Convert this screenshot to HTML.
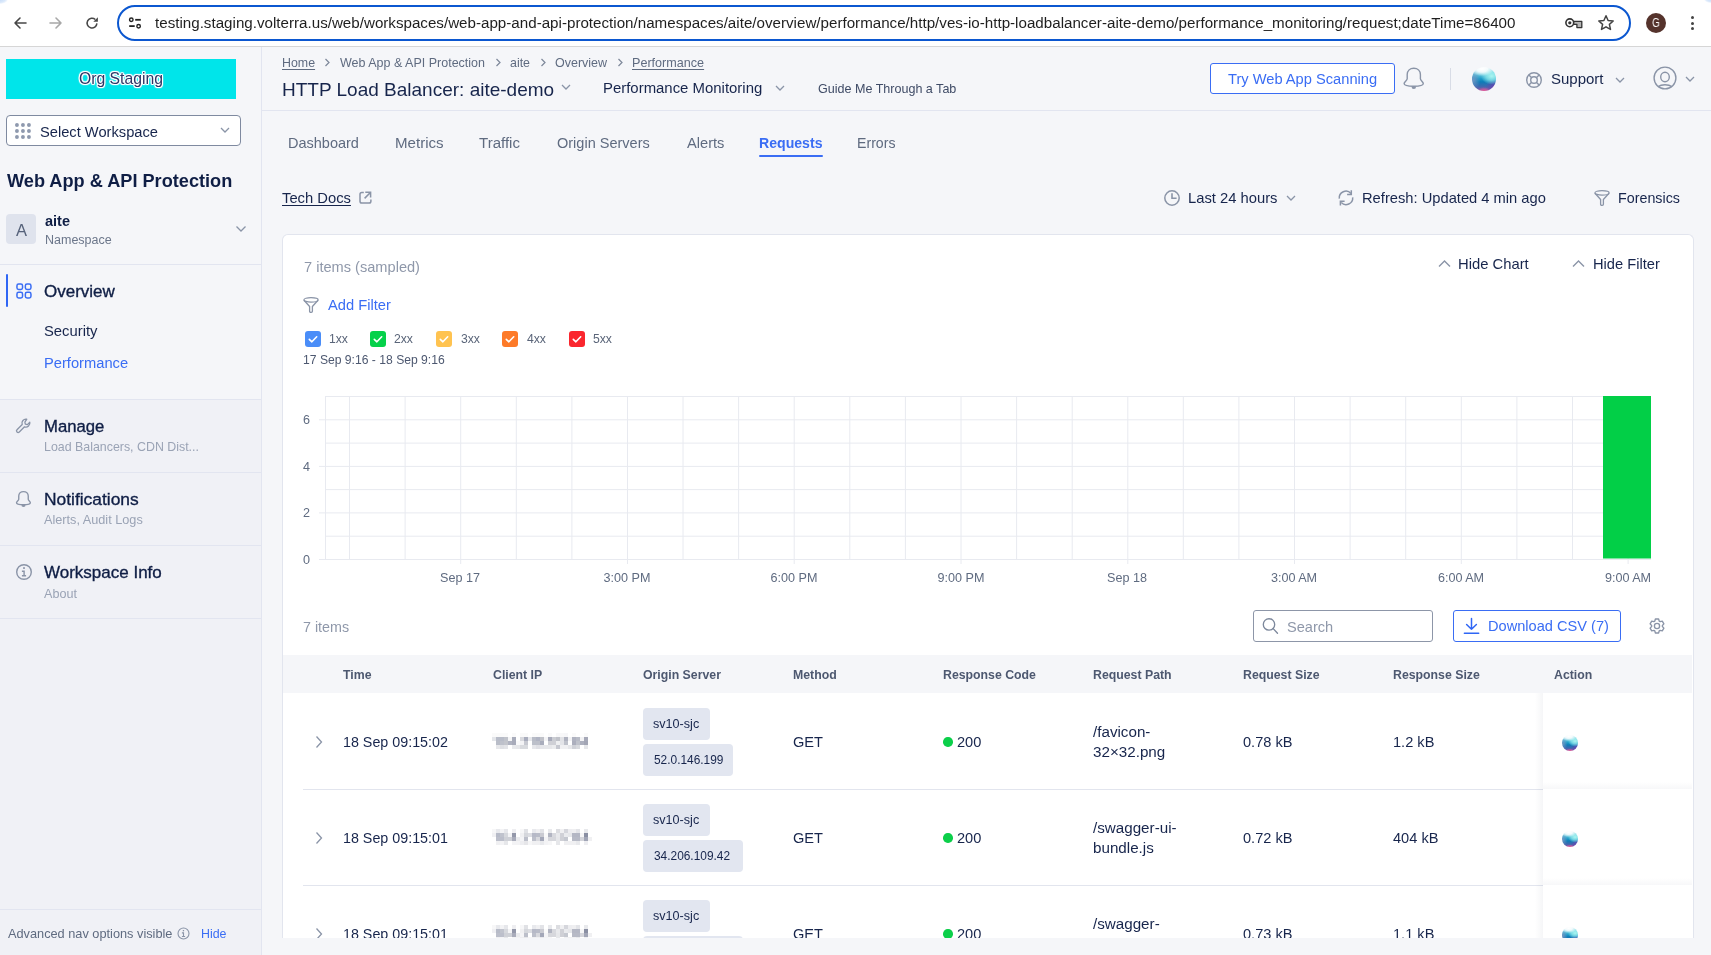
<!DOCTYPE html>
<html><head><meta charset="utf-8"><title>Performance</title>
<style>
*{box-sizing:border-box;margin:0;padding:0}
html,body{width:1711px;height:955px;overflow:hidden;background:#f5f6f9;font-family:"Liberation Sans",Arial,sans-serif;color:#17254c}
.abs{position:absolute}
.t{position:absolute;white-space:nowrap;line-height:1;will-change:transform}
svg.abs{overflow:visible}
</style></head>
<body>
<div class="abs" style="left:0px;top:0px;width:1711px;height:46px;background:#fff"></div>
<div class="abs" style="left:-6px;top:-6px;width:14px;height:10px;border-radius:50%;background:radial-gradient(ellipse at 40% 50%,#c4dbf8 0%,rgba(196,219,248,.6) 50%,rgba(255,255,255,0) 75%)"></div>
<div class="abs" style="left:1704px;top:-5px;width:12px;height:8px;border-radius:50%;background:radial-gradient(ellipse at 60% 50%,#c4dbf8 0%,rgba(196,219,248,.6) 50%,rgba(255,255,255,0) 75%)"></div>
<div class="abs" style="left:0px;top:46px;width:1711px;height:1px;background:#d6d6d6"></div>
<svg class="abs" style="left:12px;top:15px;" width="16" height="16" viewBox="0 0 16 16"><path d="M14 8H3M8 3L3 8l5 5" fill="none" stroke="#474747" stroke-width="1.6" stroke-linecap="round" stroke-linejoin="round"/></svg>
<svg class="abs" style="left:48px;top:15px;" width="16" height="16" viewBox="0 0 16 16"><path d="M2 8h11M8 3l5 5-5 5" fill="none" stroke="#a8a8a8" stroke-width="1.6" stroke-linecap="round" stroke-linejoin="round"/></svg>
<svg class="abs" style="left:84px;top:15px;" width="16" height="16" viewBox="0 0 16 16"><path d="M12.9 8.4A4.9 4.9 0 1 1 11.3 4.5" fill="none" stroke="#474747" stroke-width="1.55"/><path d="M13.9 2.2V6.8H9.3z" fill="#474747"/></svg>
<div class="abs" style="left:117px;top:5px;width:1514px;height:36px;border:2px solid #0b57d0;border-radius:18px;background:#fff;box-sizing:border-box"></div>
<svg class="abs" style="left:128px;top:16px;" width="16" height="14" viewBox="0 0 16 14"><circle cx="3.3" cy="3.7" r="1.75" fill="none" stroke="#222" stroke-width="1.4"/><path d="M7.2 3.8h5.6" stroke="#222" stroke-width="1.8"/><path d="M1.2 10.1h5.5" stroke="#222" stroke-width="1.8"/><circle cx="10.6" cy="10.2" r="1.75" fill="none" stroke="#222" stroke-width="1.4"/></svg>
<div class="t " style="left:155.0px;top:15.16px;font-size:15.17px;color:#1f1f1f;font-weight:400;">testing.staging.volterra.us/web/workspaces/web-app-and-api-protection/namespaces/aite/overview/performance/http/ves-io-http-loadbalancer-aite-demo/performance_monitoring/request;dateTime=86400</div>
<svg class="abs" style="left:1564px;top:16px;" width="20" height="14" viewBox="0 0 20 14"><path d="M9.3 5.4h8.5v6.2h-4.9V8.4H9.3" fill="#b4b4b4" stroke="#333" stroke-width="1.3" stroke-linejoin="round"/><circle cx="5.8" cy="6.8" r="3.9" fill="#fff" stroke="#333" stroke-width="1.6"/><circle cx="5.8" cy="6.8" r="1.6" fill="#333"/></svg>
<svg class="abs" style="left:1597px;top:14px;" width="18" height="18" viewBox="0 0 18 18"><path d="M9 1.8l2.1 4.7 5.1.5-3.8 3.4 1.1 5L9 12.8l-4.5 2.6 1.1-5L1.8 7l5.1-.5z" fill="none" stroke="#444" stroke-width="1.5" stroke-linejoin="round"/></svg>
<div class="abs" style="left:1646px;top:13px;width:20px;height:20px;background:#55332c;border-radius:50%"></div>
<div class="t " style="left:1651.6px;top:17.24px;font-size:12px;color:#fff;font-weight:400;transform:scaleX(0.82);transform-origin:0 0">G</div>
<div class="abs" style="left:1690.5px;top:16.0px;width:3px;height:3px;background:#444;border-radius:50%"></div>
<div class="abs" style="left:1690.5px;top:21.5px;width:3px;height:3px;background:#444;border-radius:50%"></div>
<div class="abs" style="left:1690.5px;top:27.0px;width:3px;height:3px;background:#444;border-radius:50%"></div>
<div class="abs" style="left:0px;top:47px;width:261px;height:352px;background:#f5f6f9"></div>
<div class="abs" style="left:0px;top:400px;width:261px;height:555px;background:#f0f1f6"></div>
<div class="abs" style="left:261px;top:47px;width:1px;height:908px;background:#e2e5f0"></div>
<div class="abs" style="left:6px;top:59px;width:230px;height:40px;background:#00e5ea"></div>
<div class="t " style="left:79.0px;top:71.38px;font-size:15.74px;color:#2b3766;font-weight:400;text-shadow:1px 0 0 #fff,-1px 0 0 #fff,0 1px 0 #fff,0 -1px 0 #fff,1px 1px 1px #fff,-1px -1px 1px #fff,1px -1px 1px #fff,-1px 1px 1px #fff">Org Staging</div>
<div class="abs" style="left:6px;top:115px;width:235px;height:31px;background:#fff;border:1px solid #7f8aa0;border-radius:4px;box-sizing:border-box"></div>
<svg class="abs" style="left:15px;top:123px;" width="17" height="17" viewBox="0 0 17 17"><circle cx="1.95" cy="1.95" r="1.95" fill="#8e99ae"/><circle cx="1.95" cy="7.95" r="1.95" fill="#8e99ae"/><circle cx="1.95" cy="13.95" r="1.95" fill="#8e99ae"/><circle cx="7.95" cy="1.95" r="1.95" fill="#8e99ae"/><circle cx="7.95" cy="7.95" r="1.95" fill="#8e99ae"/><circle cx="7.95" cy="13.95" r="1.95" fill="#8e99ae"/><circle cx="13.95" cy="1.95" r="1.95" fill="#8e99ae"/><circle cx="13.95" cy="7.95" r="1.95" fill="#8e99ae"/><circle cx="13.95" cy="13.95" r="1.95" fill="#8e99ae"/></svg>
<div class="t " style="left:39.5px;top:125.07px;font-size:14.68px;color:#17254c;font-weight:400;">Select Workspace</div>
<svg class="abs" style="left:219.5px;top:127px;" width="10" height="7" viewBox="0 0 10 7"><path d="M1 1l4 4 4-4" fill="none" stroke="#8a94a7" stroke-width="1.3"/></svg>
<div class="t " style="left:7.0px;top:171.62px;font-size:18.17px;color:#0f1e45;font-weight:700;">Web App &amp; API Protection</div>
<div class="abs" style="left:6px;top:214px;width:30px;height:30px;background:#dfe3ed;border-radius:4px"></div>
<div class="t " style="left:15.5px;top:222.23px;font-size:16.5px;color:#56627a;font-weight:400;">A</div>
<div class="t " style="left:44.5px;top:213.73px;font-size:14.5px;color:#0f1e45;font-weight:700;">aite</div>
<div class="t " style="left:44.5px;top:234.42px;font-size:12.5px;color:#6b768a;font-weight:400;">Namespace</div>
<svg class="abs" style="left:235px;top:225px;" width="12" height="8" viewBox="0 0 12 8"><path d="M1.5 1.5l4.5 4.5 4.5-4.5" fill="none" stroke="#8a94a7" stroke-width="1.3"/></svg>
<div class="abs" style="left:0px;top:264px;width:261px;height:1px;background:#e2e5f0"></div>
<div class="abs" style="left:6px;top:274px;width:2px;height:33px;background:#2f66f5;border-radius:1px"></div>
<svg class="abs" style="left:15px;top:282px;" width="18" height="18" viewBox="0 0 18 18"><rect x="1.95" y="1.95" width="5.6" height="5.6" rx="1.7" fill="none" stroke="#3a6df4" stroke-width="1.5"/><rect x="10.35" y="1.95" width="5.6" height="5.6" rx="1.7" fill="none" stroke="#3a6df4" stroke-width="1.5"/><rect x="1.95" y="10.35" width="5.6" height="5.6" rx="1.7" fill="none" stroke="#3a6df4" stroke-width="1.5"/><rect x="10.35" y="10.35" width="5.6" height="5.6" rx="1.7" fill="none" stroke="#3a6df4" stroke-width="1.5"/></svg>
<div class="t " style="left:44.0px;top:283.11px;font-size:17.0px;color:#0f1e45;font-weight:400;-webkit-text-stroke:0.35px #0f1e45">Overview</div>
<div class="t " style="left:43.8px;top:324.47px;font-size:14.8px;color:#17254c;font-weight:400;">Security</div>
<div class="t " style="left:43.9px;top:355.56px;font-size:14.7px;color:#3a6df4;font-weight:400;">Performance</div>
<div class="abs" style="left:0px;top:399px;width:261px;height:1px;background:#e2e5f0"></div>
<svg class="abs" style="left:15px;top:417px;" width="18" height="18" viewBox="0 0 18 18"><path d="M11.8 2.2a4 4 0 0 0-4.6 5.3L2 12.7a1.6 1.6 0 0 0 2.3 2.3l5.2-5.2a4 4 0 0 0 5.3-4.6l-2.4 2.4-2.1-.4-.4-2.1z" fill="none" stroke="#8a94a7" stroke-width="1.3" stroke-linejoin="round"/></svg>
<div class="t " style="left:44.0px;top:418.66px;font-size:16.7px;color:#0f1e45;font-weight:400;-webkit-text-stroke:0.35px #0f1e45">Manage</div>
<div class="t " style="left:44.2px;top:440.50px;font-size:12.4px;color:#9aa3b5;font-weight:400;">Load Balancers, CDN Dist...</div>
<div class="abs" style="left:0px;top:472px;width:261px;height:1px;background:#e2e5f0"></div>
<svg class="abs" style="left:15.4px;top:489.9px;" width="18" height="18" viewBox="0 0 18 18"><g transform="scale(0.72)"><path d="M11.8 2.2C8 2.2 5.2 4.8 5.2 8.5V12.8C5.2 14.5 2.1 16 2.1 17.6C2.1 19.3 6 20.3 11.8 20.3S21.3 19.3 21.3 17.6C21.3 16 18.4 14.5 18.4 12.8V8.5C18.4 4.8 15.6 2.2 11.8 2.2Z" fill="none" stroke="#8a94a7" stroke-width="1.9"/><path d="M8.8 20.4h6a3 3.3 0 0 1-6 0z" fill="#8a94a7"/></g></svg>
<div class="t " style="left:44.2px;top:491.27px;font-size:17.4px;color:#0f1e45;font-weight:400;-webkit-text-stroke:0.35px #0f1e45">Notifications</div>
<div class="t " style="left:44.2px;top:514.45px;font-size:12.7px;color:#9aa3b5;font-weight:400;">Alerts, Audit Logs</div>
<div class="abs" style="left:0px;top:545px;width:261px;height:1px;background:#e2e5f0"></div>
<svg class="abs" style="left:15px;top:563px;" width="18" height="18" viewBox="0 0 18 18"><circle cx="9" cy="9" r="7.3" fill="none" stroke="#8a94a7" stroke-width="1.4"/><rect x="8.1" y="4.2" width="1.8" height="1.7" fill="#8a94a7"/><path d="M6.9 8.2H9.1V12.7M6.9 12.7H11.1" fill="none" stroke="#8a94a7" stroke-width="1.4"/></svg>
<div class="t " style="left:44.2px;top:564.41px;font-size:17.0px;color:#0f1e45;font-weight:400;-webkit-text-stroke:0.35px #0f1e45">Workspace Info</div>
<div class="t " style="left:44.2px;top:587.73px;font-size:12.6px;color:#9aa3b5;font-weight:400;">About</div>
<div class="abs" style="left:0px;top:618px;width:261px;height:1px;background:#e2e5f0"></div>
<div class="abs" style="left:0px;top:909px;width:261px;height:1px;background:#e2e5f0"></div>
<div class="t " style="left:8.2px;top:928.21px;font-size:12.75px;color:#5f6b80;font-weight:400;">Advanced nav options visible</div>
<svg class="abs" style="left:177.2px;top:927.3px;" width="13" height="13" viewBox="0 0 13 13"><circle cx="6.5" cy="6.5" r="5.5" fill="none" stroke="#8a94a7" stroke-width="1.1"/><rect x="5.8" y="3" width="1.3" height="1.3" fill="#8a94a7"/><path d="M4.9 5.9H6.5V9.5M4.9 9.5H8.1" fill="none" stroke="#8a94a7" stroke-width="1.1"/></svg>
<div class="t " style="left:200.6px;top:927.70px;font-size:12.4px;color:#3a6df4;font-weight:400;">Hide</div>
<div class="abs" style="left:262px;top:47px;width:1449px;height:63px;background:#f5f6f9"></div>
<div class="abs" style="left:262px;top:110px;width:1449px;height:1px;background:#e2e5f0"></div>
<div class="t " style="left:282.3px;top:57.30px;font-size:12.4px;color:#5f6b80;font-weight:400;text-decoration:underline;text-underline-offset:2px">Home</div>
<svg class="abs" style="left:324px;top:58px;" width="7" height="9" viewBox="0 0 7 9"><path d="M1.5 1l3.5 3.5-3.5 3.5" fill="none" stroke="#7d879a" stroke-width="1.2"/></svg>
<div class="t " style="left:339.5px;top:57.22px;font-size:12.5px;color:#5f6b80;font-weight:400;">Web App &amp; API Protection</div>
<svg class="abs" style="left:495px;top:58px;" width="7" height="9" viewBox="0 0 7 9"><path d="M1.5 1l3.5 3.5-3.5 3.5" fill="none" stroke="#7d879a" stroke-width="1.2"/></svg>
<div class="t " style="left:510.3px;top:57.30px;font-size:12.4px;color:#5f6b80;font-weight:400;">aite</div>
<svg class="abs" style="left:540px;top:58px;" width="7" height="9" viewBox="0 0 7 9"><path d="M1.5 1l3.5 3.5-3.5 3.5" fill="none" stroke="#7d879a" stroke-width="1.2"/></svg>
<div class="t " style="left:555.0px;top:57.22px;font-size:12.5px;color:#5f6b80;font-weight:400;">Overview</div>
<svg class="abs" style="left:617px;top:58px;" width="7" height="9" viewBox="0 0 7 9"><path d="M1.5 1l3.5 3.5-3.5 3.5" fill="none" stroke="#7d879a" stroke-width="1.2"/></svg>
<div class="t " style="left:632.0px;top:57.13px;font-size:12.6px;color:#5f6b80;font-weight:400;text-decoration:underline;text-underline-offset:2px">Performance</div>
<div class="t " style="left:281.8px;top:79.72px;font-size:19.0px;color:#17254c;font-weight:400;">HTTP Load Balancer: aite-demo</div>
<svg class="abs" style="left:561px;top:84px;" width="10" height="7" viewBox="0 0 10 7"><path d="M1 1l4 4 4-4" fill="none" stroke="#8a94a7" stroke-width="1.3"/></svg>
<div class="t " style="left:603.3px;top:80.96px;font-size:14.93px;color:#17254c;font-weight:400;">Performance Monitoring</div>
<svg class="abs" style="left:775px;top:85px;" width="10" height="7" viewBox="0 0 10 7"><path d="M1 1l4 4 4-4" fill="none" stroke="#8a94a7" stroke-width="1.3"/></svg>
<div class="t " style="left:817.6px;top:82.58px;font-size:12.55px;color:#3f4b66;font-weight:400;">Guide Me Through a Tab</div>
<div class="abs" style="left:1210px;top:63px;width:185px;height:31px;border:1px solid #3a6df4;border-radius:3px;box-sizing:border-box;background:#fff"></div>
<div class="t " style="left:1228.4px;top:71.58px;font-size:14.67px;color:#3a6df4;font-weight:400;">Try Web App Scanning</div>
<svg class="abs" style="left:1402px;top:66px;" width="24" height="25" viewBox="0 0 24 25"><path d="M11.8 2.2C8 2.2 5.2 4.8 5.2 8.5V12.8C5.2 14.5 2.1 16 2.1 17.6C2.1 19.3 6 20.3 11.8 20.3S21.3 19.3 21.3 17.6C21.3 16 18.4 14.5 18.4 12.8V8.5C18.4 4.8 15.6 2.2 11.8 2.2Z" fill="none" stroke="#8a94a7" stroke-width="1.4"/><path d="M9.5 20.4h4.6a2.3 2.5 0 0 1-4.6 0z" fill="#8a94a7"/></svg>
<div class="abs" style="left:1450px;top:68px;width:1px;height:22px;background:#d8dce6"></div>
<div class="abs" style="left:1472px;top:67px;width:24px;height:24px;border-radius:50%;background:radial-gradient(ellipse 50% 30% at 42% 8%,rgba(255,255,255,1) 0%,rgba(255,255,255,.85) 45%,rgba(255,255,255,0) 100%),radial-gradient(ellipse 45% 35% at 82% 38%,rgba(170,245,240,1) 0%,rgba(150,238,238,.7) 50%,rgba(150,238,238,0) 100%),radial-gradient(ellipse 30% 16% at 50% 100%,rgba(236,90,150,.95) 0%,rgba(220,90,155,.6) 50%,rgba(220,90,155,0) 100%),radial-gradient(ellipse 35% 35% at 92% 85%,rgba(105,65,175,1) 0%,rgba(105,65,175,0) 100%),radial-gradient(ellipse 30% 40% at 5% 55%,rgba(120,150,195,.9) 0%,rgba(120,150,195,0) 100%),linear-gradient(180deg,#d8eef5 0%,#6ccbe0 28%,#1e9cc8 48%,#0c7db8 62%,#3a6ab0 80%,#8a5aa8 100%)"></div>
<svg class="abs" style="left:1525px;top:71px;" width="18" height="18" viewBox="0 0 18 18"><circle cx="9" cy="9" r="7.3" fill="none" stroke="#8a94a7" stroke-width="1.4"/><circle cx="9" cy="9" r="3.3" fill="none" stroke="#8a94a7" stroke-width="1.4"/><path d="M3.9 3.9l2.8 2.8M14.1 3.9l-2.8 2.8M3.9 14.1l2.8-2.8M14.1 14.1l-2.8-2.8" stroke="#8a94a7" stroke-width="1.4"/></svg>
<div class="t " style="left:1551.3px;top:70.70px;font-size:15.0px;color:#17254c;font-weight:400;">Support</div>
<svg class="abs" style="left:1615px;top:77px;" width="10" height="7" viewBox="0 0 10 7"><path d="M1 1l4 4 4-4" fill="none" stroke="#8a94a7" stroke-width="1.3"/></svg>
<svg class="abs" style="left:1652px;top:65.4px;" width="26" height="26" viewBox="0 0 26 26"><circle cx="13" cy="13" r="10.9" fill="none" stroke="#8a94a7" stroke-width="1.4"/><ellipse cx="13" cy="12" rx="4.3" ry="4.7" fill="none" stroke="#8a94a7" stroke-width="1.4"/><path d="M6.3 21.6C8 20.2 10.3 19.7 13 19.7s5 .5 6.7 1.9" fill="none" stroke="#8a94a7" stroke-width="1.4"/></svg>
<svg class="abs" style="left:1684.5px;top:75.5px;" width="10" height="7" viewBox="0 0 10 7"><path d="M1 1l4 4 4-4" fill="none" stroke="#8a94a7" stroke-width="1.3"/></svg>
<div class="t " style="left:287.5px;top:135.72px;font-size:14.51px;color:#5f6b80;font-weight:400;">Dashboard</div>
<div class="t " style="left:394.5px;top:135.23px;font-size:15.08px;color:#5f6b80;font-weight:400;">Metrics</div>
<div class="t " style="left:479.0px;top:135.25px;font-size:15.06px;color:#5f6b80;font-weight:400;">Traffic</div>
<div class="t " style="left:556.7px;top:135.71px;font-size:14.52px;color:#5f6b80;font-weight:400;">Origin Servers</div>
<div class="t " style="left:686.8px;top:135.62px;font-size:14.63px;color:#5f6b80;font-weight:400;">Alerts</div>
<div class="t " style="left:759.0px;top:136.06px;font-size:14.11px;color:#3a6df4;font-weight:700;">Requests</div>
<div class="abs" style="left:759px;top:155px;width:64px;height:2px;background:#3a6df4;border-radius:1px"></div>
<div class="t " style="left:856.5px;top:136.03px;font-size:14.14px;color:#5f6b80;font-weight:400;">Errors</div>
<div class="t " style="left:282.3px;top:191.49px;font-size:14.78px;color:#17254c;font-weight:400;text-decoration:underline;text-underline-offset:2px">Tech Docs</div>
<svg class="abs" style="left:359px;top:191px;" width="14" height="14" viewBox="0 0 14 14"><path d="M4.8 1.4H2.8A1.8 1.8 0 0 0 1 3.2v7.1a1.8 1.8 0 0 0 1.8 1.8h7.3a1.8 1.8 0 0 0 1.8-1.8V8.6" fill="none" stroke="#8a94a7" stroke-width="1.5"/><path d="M6.3 1.3h5.3v5.3M11.4 1.5L5.6 7.4" fill="none" stroke="#8a94a7" stroke-width="1.5"/></svg>
<svg class="abs" style="left:1163px;top:189px;" width="18" height="18" viewBox="0 0 18 18"><circle cx="9" cy="9" r="7.2" fill="none" stroke="#8a94a7" stroke-width="1.5"/><path d="M9 4.3v5h4.6" fill="none" stroke="#8a94a7" stroke-width="1.6"/></svg>
<div class="t " style="left:1188.4px;top:190.80px;font-size:14.77px;color:#17254c;font-weight:400;">Last 24 hours</div>
<svg class="abs" style="left:1286px;top:195px;" width="10" height="7" viewBox="0 0 10 7"><path d="M1 1l4 4 4-4" fill="none" stroke="#8a94a7" stroke-width="1.3"/></svg>
<svg class="abs" style="left:1337px;top:189px;" width="18" height="18" viewBox="0 0 18 18"><path d="M2.3 9.6A6.7 6.7 0 0 1 14 4.5M15.7 8.4A6.7 6.7 0 0 1 4.2 13.6" fill="none" stroke="#8a94a7" stroke-width="1.5"/><path d="M14.3 1.2v4.3H10.1M3.4 16.6v-4.3h4.2" fill="none" stroke="#8a94a7" stroke-width="1.5"/></svg>
<div class="t " style="left:1362.0px;top:190.85px;font-size:14.71px;color:#17254c;font-weight:400;">Refresh: Updated 4 min ago</div>
<svg class="abs" style="left:1593.8px;top:189.8px;" width="16" height="17" viewBox="0 0 16 17"><ellipse cx="8" cy="2.9" rx="7.1" ry="2.2" fill="none" stroke="#8a94a7" stroke-width="1.3"/><path d="M1 3.3L6.6 9.5V14.3a1.1 1.1 0 0 0 1.1 1.1h.6a1.1 1.1 0 0 0 1.1-1.1V9.5L15 3.3" fill="none" stroke="#8a94a7" stroke-width="1.3" stroke-linejoin="round"/></svg>
<div class="t " style="left:1618.2px;top:191.20px;font-size:14.3px;color:#17254c;font-weight:400;">Forensics</div>
<div class="abs" style="left:282px;top:234px;width:1412px;height:704px;background:#fff;border:1px solid #e2e5ee;border-bottom:none;border-radius:6px 6px 0 0;box-sizing:border-box"></div>
<div class="t " style="left:303.9px;top:259.64px;font-size:14.6px;color:#8f98aa;font-weight:400;">7 items (sampled)</div>
<svg class="abs" style="left:1437.5px;top:260px;" width="13" height="8" viewBox="0 0 13 8"><path d="M1 6.5l5.5-5.5 5.5 5.5" fill="none" stroke="#8a94a7" stroke-width="1.4"/></svg>
<div class="t " style="left:1458.2px;top:257.07px;font-size:14.8px;color:#17254c;font-weight:400;">Hide Chart</div>
<svg class="abs" style="left:1572px;top:260px;" width="13" height="8" viewBox="0 0 13 8"><path d="M1 6.5l5.5-5.5 5.5 5.5" fill="none" stroke="#8a94a7" stroke-width="1.4"/></svg>
<div class="t " style="left:1592.7px;top:257.19px;font-size:14.66px;color:#17254c;font-weight:400;">Hide Filter</div>
<svg class="abs" style="left:303.2px;top:297.2px;" width="16" height="16" viewBox="0 0 16 16"><ellipse cx="8" cy="2.9" rx="7.1" ry="2.2" fill="none" stroke="#8a94a7" stroke-width="1.3"/><path d="M1 3.3L6.6 9.5V14.3a1.1 1.1 0 0 0 1.1 1.1h.6a1.1 1.1 0 0 0 1.1-1.1V9.5L15 3.3" fill="none" stroke="#8a94a7" stroke-width="1.3" stroke-linejoin="round"/></svg>
<div class="t " style="left:327.7px;top:298.06px;font-size:14.7px;color:#3a6df4;font-weight:400;">Add Filter</div>
<div class="abs" style="left:305px;top:331px;width:16px;height:16px;border-radius:3px;background:#4a8df8"></div>
<svg class="abs" style="left:305px;top:331px;" width="16" height="16" viewBox="0 0 16 16"><path d="M4.3 8.3l2.6 2.5 4.8-5" fill="none" stroke="#fff" stroke-width="1.6" stroke-linecap="round" stroke-linejoin="round"/></svg>
<div class="t " style="left:329.3px;top:333.17px;font-size:12.2px;color:#5a6579;font-weight:400;">1xx</div>
<div class="abs" style="left:370.3px;top:331px;width:16px;height:16px;border-radius:3px;background:#05d14a"></div>
<svg class="abs" style="left:370.3px;top:331px;" width="16" height="16" viewBox="0 0 16 16"><path d="M4.3 8.3l2.6 2.5 4.8-5" fill="none" stroke="#fff" stroke-width="1.6" stroke-linecap="round" stroke-linejoin="round"/></svg>
<div class="t " style="left:394.0px;top:333.17px;font-size:12.2px;color:#5a6579;font-weight:400;">2xx</div>
<div class="abs" style="left:436px;top:331px;width:16px;height:16px;border-radius:3px;background:#ffc350"></div>
<svg class="abs" style="left:436px;top:331px;" width="16" height="16" viewBox="0 0 16 16"><path d="M4.3 8.3l2.6 2.5 4.8-5" fill="none" stroke="#fff" stroke-width="1.6" stroke-linecap="round" stroke-linejoin="round"/></svg>
<div class="t " style="left:460.5px;top:333.17px;font-size:12.2px;color:#5a6579;font-weight:400;">3xx</div>
<div class="abs" style="left:502px;top:331px;width:16px;height:16px;border-radius:3px;background:#fd7a28"></div>
<svg class="abs" style="left:502px;top:331px;" width="16" height="16" viewBox="0 0 16 16"><path d="M4.3 8.3l2.6 2.5 4.8-5" fill="none" stroke="#fff" stroke-width="1.6" stroke-linecap="round" stroke-linejoin="round"/></svg>
<div class="t " style="left:526.8px;top:333.17px;font-size:12.2px;color:#5a6579;font-weight:400;">4xx</div>
<div class="abs" style="left:569px;top:331px;width:16px;height:16px;border-radius:3px;background:#fa262e"></div>
<svg class="abs" style="left:569px;top:331px;" width="16" height="16" viewBox="0 0 16 16"><path d="M4.3 8.3l2.6 2.5 4.8-5" fill="none" stroke="#fff" stroke-width="1.6" stroke-linecap="round" stroke-linejoin="round"/></svg>
<div class="t " style="left:593.4px;top:333.17px;font-size:12.2px;color:#5a6579;font-weight:400;">5xx</div>
<div class="t " style="left:303.4px;top:353.72px;font-size:12.15px;color:#4d5870;font-weight:400;">17 Sep 9:16 - 18 Sep 9:16</div>
<svg class="abs" style="left:320px;top:390px;overflow:visible" width="1340" height="180" viewBox="0 0 1340 180"><line x1="5" y1="6.5" x2="1331" y2="6.5" stroke="#e8eaf0" stroke-width="1"/><line x1="5" y1="29.8" x2="1331" y2="29.8" stroke="#e8eaf0" stroke-width="1"/><line x1="5" y1="53.1" x2="1331" y2="53.1" stroke="#e8eaf0" stroke-width="1"/><line x1="5" y1="76.4" x2="1331" y2="76.4" stroke="#e8eaf0" stroke-width="1"/><line x1="5" y1="99.6" x2="1331" y2="99.6" stroke="#e8eaf0" stroke-width="1"/><line x1="5" y1="122.9" x2="1331" y2="122.9" stroke="#e8eaf0" stroke-width="1"/><line x1="5" y1="146.2" x2="1331" y2="146.2" stroke="#e8eaf0" stroke-width="1"/><line x1="5" y1="169.5" x2="1331" y2="169.5" stroke="#e8eaf0" stroke-width="1"/><line x1="5.5" y1="6" x2="5.5" y2="169.5" stroke="#e8eaf0" stroke-width="1"/><line x1="29.5" y1="6" x2="29.5" y2="169.5" stroke="#e8eaf0" stroke-width="1"/><line x1="85.1" y1="6" x2="85.1" y2="169.5" stroke="#e8eaf0" stroke-width="1"/><line x1="140.7" y1="6" x2="140.7" y2="169.5" stroke="#e8eaf0" stroke-width="1"/><line x1="196.3" y1="6" x2="196.3" y2="169.5" stroke="#e8eaf0" stroke-width="1"/><line x1="251.9" y1="6" x2="251.9" y2="169.5" stroke="#e8eaf0" stroke-width="1"/><line x1="307.5" y1="6" x2="307.5" y2="169.5" stroke="#e8eaf0" stroke-width="1"/><line x1="363.0" y1="6" x2="363.0" y2="169.5" stroke="#e8eaf0" stroke-width="1"/><line x1="418.6" y1="6" x2="418.6" y2="169.5" stroke="#e8eaf0" stroke-width="1"/><line x1="474.2" y1="6" x2="474.2" y2="169.5" stroke="#e8eaf0" stroke-width="1"/><line x1="529.8" y1="6" x2="529.8" y2="169.5" stroke="#e8eaf0" stroke-width="1"/><line x1="585.4" y1="6" x2="585.4" y2="169.5" stroke="#e8eaf0" stroke-width="1"/><line x1="641.0" y1="6" x2="641.0" y2="169.5" stroke="#e8eaf0" stroke-width="1"/><line x1="696.6" y1="6" x2="696.6" y2="169.5" stroke="#e8eaf0" stroke-width="1"/><line x1="752.2" y1="6" x2="752.2" y2="169.5" stroke="#e8eaf0" stroke-width="1"/><line x1="807.8" y1="6" x2="807.8" y2="169.5" stroke="#e8eaf0" stroke-width="1"/><line x1="863.3" y1="6" x2="863.3" y2="169.5" stroke="#e8eaf0" stroke-width="1"/><line x1="918.9" y1="6" x2="918.9" y2="169.5" stroke="#e8eaf0" stroke-width="1"/><line x1="974.5" y1="6" x2="974.5" y2="169.5" stroke="#e8eaf0" stroke-width="1"/><line x1="1030.1" y1="6" x2="1030.1" y2="169.5" stroke="#e8eaf0" stroke-width="1"/><line x1="1085.7" y1="6" x2="1085.7" y2="169.5" stroke="#e8eaf0" stroke-width="1"/><line x1="1141.3" y1="6" x2="1141.3" y2="169.5" stroke="#e8eaf0" stroke-width="1"/><line x1="1196.9" y1="6" x2="1196.9" y2="169.5" stroke="#e8eaf0" stroke-width="1"/><line x1="1252.5" y1="6" x2="1252.5" y2="169.5" stroke="#e8eaf0" stroke-width="1"/><line x1="1308.1" y1="6" x2="1308.1" y2="169.5" stroke="#e8eaf0" stroke-width="1"/><line x1="-1" y1="169.5" x2="5" y2="169.5" stroke="#e8eaf0" stroke-width="1"/><line x1="-1" y1="122.9" x2="5" y2="122.9" stroke="#e8eaf0" stroke-width="1"/><line x1="-1" y1="76.4" x2="5" y2="76.4" stroke="#e8eaf0" stroke-width="1"/><line x1="-1" y1="29.8" x2="5" y2="29.8" stroke="#e8eaf0" stroke-width="1"/><line x1="140.7" y1="169" x2="140.7" y2="174" stroke="#e8eaf0" stroke-width="1"/><line x1="307.5" y1="169" x2="307.5" y2="174" stroke="#e8eaf0" stroke-width="1"/><line x1="474.2" y1="169" x2="474.2" y2="174" stroke="#e8eaf0" stroke-width="1"/><line x1="641.0" y1="169" x2="641.0" y2="174" stroke="#e8eaf0" stroke-width="1"/><line x1="807.8" y1="169" x2="807.8" y2="174" stroke="#e8eaf0" stroke-width="1"/><line x1="974.5" y1="169" x2="974.5" y2="174" stroke="#e8eaf0" stroke-width="1"/><line x1="1141.3" y1="169" x2="1141.3" y2="174" stroke="#e8eaf0" stroke-width="1"/><line x1="1308.1" y1="169" x2="1308.1" y2="174" stroke="#e8eaf0" stroke-width="1"/><rect x="1283" y="6" width="48" height="162.5" fill="#02cf47"/></svg>
<div class="t " style="left:303.4px;top:553.73px;font-size:12.6px;color:#5f6b80;font-weight:400;">0</div>
<div class="t " style="left:303.4px;top:507.16px;font-size:12.6px;color:#5f6b80;font-weight:400;">2</div>
<div class="t " style="left:303.4px;top:460.59px;font-size:12.6px;color:#5f6b80;font-weight:400;">4</div>
<div class="t " style="left:303.4px;top:414.02px;font-size:12.6px;color:#5f6b80;font-weight:400;">6</div>
<div class="t" style="left:400.2px;width:120px;text-align:center;top:571.83px;font-size:12.6px;color:#5f6b80">Sep 17</div>
<div class="t" style="left:567.0px;width:120px;text-align:center;top:571.83px;font-size:12.6px;color:#5f6b80">3:00 PM</div>
<div class="t" style="left:733.7px;width:120px;text-align:center;top:571.83px;font-size:12.6px;color:#5f6b80">6:00 PM</div>
<div class="t" style="left:900.5px;width:120px;text-align:center;top:571.83px;font-size:12.6px;color:#5f6b80">9:00 PM</div>
<div class="t" style="left:1067.3px;width:120px;text-align:center;top:571.83px;font-size:12.6px;color:#5f6b80">Sep 18</div>
<div class="t" style="left:1234.0px;width:120px;text-align:center;top:571.83px;font-size:12.6px;color:#5f6b80">3:00 AM</div>
<div class="t" style="left:1400.8px;width:120px;text-align:center;top:571.83px;font-size:12.6px;color:#5f6b80">6:00 AM</div>
<div class="t" style="left:1567.6px;width:120px;text-align:center;top:571.83px;font-size:12.6px;color:#5f6b80">9:00 AM</div>
<div class="t " style="left:303.2px;top:620.40px;font-size:14.3px;color:#8f98aa;font-weight:400;">7 items</div>
<div class="abs" style="left:1253px;top:610px;width:180px;height:32px;border:1px solid #8d96a8;border-radius:3px;box-sizing:border-box;background:#fff"></div>
<svg class="abs" style="left:1261px;top:617px;" width="18" height="18" viewBox="0 0 18 18"><circle cx="8" cy="7.4" r="5.7" fill="none" stroke="#7d889c" stroke-width="1.35"/><path d="M12.2 11.6l4.3 4.6" stroke="#7d889c" stroke-width="1.35" stroke-linecap="round"/></svg>
<div class="t " style="left:1286.7px;top:619.94px;font-size:14.6px;color:#8f98aa;font-weight:400;">Search</div>
<div class="abs" style="left:1453px;top:610px;width:168px;height:32px;border:1px solid #3a6df4;border-radius:3px;box-sizing:border-box;background:#fff"></div>
<svg class="abs" style="left:1462px;top:616px;" width="18" height="18" viewBox="0 0 18 18"><path d="M9.5 2.6v10.6M4.6 8.5l4.9 4.8 4.9-4.8" fill="none" stroke="#2f66f5" stroke-width="1.5" stroke-linecap="round" stroke-linejoin="round"/><path d="M2.4 17.3h14.3" stroke="#2f66f5" stroke-width="1.5" stroke-linecap="round"/></svg>
<div class="t " style="left:1487.7px;top:619.14px;font-size:14.6px;color:#3a6df4;font-weight:400;">Download CSV (7)</div>
<svg class="abs" style="left:1648px;top:617px;" width="18" height="18" viewBox="0 0 18 18"><path d="M6.80 4.07 L7.38 1.98 L10.62 1.98 L11.20 4.07 L12.17 4.63 L14.27 4.09 L15.89 6.89 L14.37 8.44 L14.37 9.56 L15.89 11.11 L14.27 13.91 L12.17 13.37 L11.20 13.93 L10.62 16.02 L7.38 16.02 L6.80 13.93 L5.83 13.37 L3.73 13.91 L2.11 11.11 L3.63 9.56 L3.63 8.44 L2.11 6.89 L3.73 4.09 L5.83 4.63Z" fill="none" stroke="#8a94a7" stroke-width="1.35" stroke-linejoin="round"/><circle cx="9" cy="9" r="2.6" fill="none" stroke="#8a94a7" stroke-width="1.35"/></svg>
<div class="abs" style="left:283px;top:655px;width:1409px;height:38px;background:#f5f6f9"></div>
<div class="t " style="left:343.4px;top:668.59px;font-size:12.3px;color:#4d5870;font-weight:700;">Time</div>
<div class="t " style="left:493.0px;top:668.59px;font-size:12.3px;color:#4d5870;font-weight:700;">Client IP</div>
<div class="t " style="left:643.4px;top:668.59px;font-size:12.3px;color:#4d5870;font-weight:700;">Origin Server</div>
<div class="t " style="left:793.0px;top:668.59px;font-size:12.3px;color:#4d5870;font-weight:700;">Method</div>
<div class="t " style="left:943.1px;top:668.59px;font-size:12.3px;color:#4d5870;font-weight:700;">Response Code</div>
<div class="t " style="left:1092.9px;top:668.59px;font-size:12.3px;color:#4d5870;font-weight:700;">Request Path</div>
<div class="t " style="left:1243.0px;top:668.59px;font-size:12.3px;color:#4d5870;font-weight:700;">Request Size</div>
<div class="t " style="left:1392.9px;top:668.59px;font-size:12.3px;color:#4d5870;font-weight:700;">Response Size</div>
<div class="t " style="left:1553.7px;top:668.59px;font-size:12.3px;color:#4d5870;font-weight:700;">Action</div>
<div class="abs" style="left:283px;top:693px;width:1409px;height:245px;overflow:hidden">
<div class="abs" style="left:20px;top:96px;width:1240px;height:1px;background:#e2e5ee"></div>
<svg class="abs" style="left:31px;top:41.5px" width="10" height="14" viewBox="0 0 10 14"><path d="M2.5 1.5l5 5.5-5 5.5" fill="none" stroke="#8a94a7" stroke-width="1.3"/></svg>
<div class="t" style="left:60.4px;top:42.40px;font-size:14.3px;color:#17254c;font-weight:400;">18 Sep 09:15:02</div>
<svg class="abs" style="left:209px;top:40.0px" width="100" height="16" viewBox="0 0 100 16" shape-rendering="crispEdges"><rect x="0" y="0" width="4" height="4" fill="#fafafa"/><rect x="4" y="0" width="4" height="4" fill="#fafafa"/><rect x="8" y="0" width="4" height="4" fill="#fafafa"/><rect x="12" y="0" width="4" height="4" fill="#fafafa"/><rect x="20" y="0" width="4" height="4" fill="#fafafa"/><rect x="28" y="0" width="4" height="4" fill="#fafafa"/><rect x="32" y="0" width="4" height="4" fill="#fafafa"/><rect x="40" y="0" width="4" height="4" fill="#fafafa"/><rect x="44" y="0" width="4" height="4" fill="#fafafa"/><rect x="48" y="0" width="4" height="4" fill="#fafafa"/><rect x="56" y="0" width="4" height="4" fill="#fafafa"/><rect x="64" y="0" width="4" height="4" fill="#f8f8f9"/><rect x="68" y="0" width="4" height="4" fill="#f8f8f9"/><rect x="72" y="0" width="4" height="4" fill="#f6f6f8"/><rect x="80" y="0" width="4" height="4" fill="#fafafa"/><rect x="92" y="0" width="4" height="4" fill="#fafafa"/><rect x="0" y="4" width="4" height="4" fill="#e4e6ea"/><rect x="4" y="4" width="4" height="4" fill="#b8bcc8"/><rect x="8" y="4" width="4" height="4" fill="#b8bcc8"/><rect x="12" y="4" width="4" height="4" fill="#c0c3cb"/><rect x="16" y="4" width="4" height="4" fill="#f5f5f6"/><rect x="20" y="4" width="4" height="4" fill="#a8acbb"/><rect x="28" y="4" width="4" height="4" fill="#d8d9de"/><rect x="32" y="4" width="4" height="4" fill="#a9adbd"/><rect x="36" y="4" width="4" height="4" fill="#e6e7eb"/><rect x="40" y="4" width="4" height="4" fill="#b8bcc7"/><rect x="44" y="4" width="4" height="4" fill="#b0b4c3"/><rect x="48" y="4" width="4" height="4" fill="#c0c2c9"/><rect x="52" y="4" width="4" height="4" fill="#f4f4f6"/><rect x="56" y="4" width="4" height="4" fill="#a8abba"/><rect x="60" y="4" width="4" height="4" fill="#cbcdd3"/><rect x="64" y="4" width="4" height="4" fill="#c0c2c9"/><rect x="68" y="4" width="4" height="4" fill="#e1e2e6"/><rect x="72" y="4" width="4" height="4" fill="#b0b3c0"/><rect x="76" y="4" width="4" height="4" fill="#f3f3f5"/><rect x="80" y="4" width="4" height="4" fill="#b0b3c1"/><rect x="84" y="4" width="4" height="4" fill="#b8bbc6"/><rect x="88" y="4" width="4" height="4" fill="#f2f2f4"/><rect x="92" y="4" width="4" height="4" fill="#a6a9b8"/><rect x="4" y="8" width="4" height="4" fill="#b9bdc8"/><rect x="8" y="8" width="4" height="4" fill="#bec1cb"/><rect x="12" y="8" width="4" height="4" fill="#c3c5cc"/><rect x="16" y="8" width="4" height="4" fill="#b0b3c1"/><rect x="20" y="8" width="4" height="4" fill="#a8abba"/><rect x="24" y="8" width="4" height="4" fill="#fafafb"/><rect x="28" y="8" width="4" height="4" fill="#f3f3f5"/><rect x="32" y="8" width="4" height="4" fill="#c7c9d1"/><rect x="40" y="8" width="4" height="4" fill="#bcc0ca"/><rect x="44" y="8" width="4" height="4" fill="#bdc0ca"/><rect x="48" y="8" width="4" height="4" fill="#a9adbc"/><rect x="56" y="8" width="4" height="4" fill="#cfd0d6"/><rect x="60" y="8" width="4" height="4" fill="#cfd0d6"/><rect x="64" y="8" width="4" height="4" fill="#eeeff1"/><rect x="68" y="8" width="4" height="4" fill="#e3e4e8"/><rect x="72" y="8" width="4" height="4" fill="#bfc2cb"/><rect x="80" y="8" width="4" height="4" fill="#acafbd"/><rect x="84" y="8" width="4" height="4" fill="#bfc2cb"/><rect x="88" y="8" width="4" height="4" fill="#adb0be"/><rect x="92" y="8" width="4" height="4" fill="#a3a6b5"/><rect x="4" y="12" width="4" height="4" fill="#e6e7ea"/><rect x="8" y="12" width="4" height="4" fill="#dfe0e4"/><rect x="12" y="12" width="4" height="4" fill="#e3e4e8"/><rect x="20" y="12" width="4" height="4" fill="#e8e9ec"/><rect x="24" y="12" width="4" height="4" fill="#e6e7ea"/><rect x="28" y="12" width="4" height="4" fill="#d8dade"/><rect x="32" y="12" width="4" height="4" fill="#d8dade"/><rect x="40" y="12" width="4" height="4" fill="#e6e7eb"/><rect x="44" y="12" width="4" height="4" fill="#dfe0e5"/><rect x="48" y="12" width="4" height="4" fill="#e4e5e9"/><rect x="52" y="12" width="4" height="4" fill="#e6e7ea"/><rect x="56" y="12" width="4" height="4" fill="#e6e7ea"/><rect x="60" y="12" width="4" height="4" fill="#ebecee"/><rect x="64" y="12" width="4" height="4" fill="#c6c8d0"/><rect x="68" y="12" width="4" height="4" fill="#f0f0f2"/><rect x="72" y="12" width="4" height="4" fill="#f0f0f2"/><rect x="76" y="12" width="4" height="4" fill="#e6e7ea"/><rect x="80" y="12" width="4" height="4" fill="#d0d2d8"/><rect x="84" y="12" width="4" height="4" fill="#d8dade"/><rect x="92" y="12" width="4" height="4" fill="#e6e7ea"/></svg>
<div class="abs" style="left:360px;top:15px;width:67px;height:31.5px;background:#e2e6f0;border-radius:4px"></div>
<div class="t" style="left:370.2px;top:24.83px;font-size:12.6px;color:#17254c;font-weight:400;">sv10-sjc</div>
<div class="abs" style="left:360px;top:51px;width:89.5px;height:32px;background:#e2e6f0;border-radius:4px"></div>
<div class="t" style="left:370.8px;top:61.73px;font-size:11.9px;color:#17254c;font-weight:400;">52.0.146.199</div>
<div class="t" style="left:510.0px;top:42.14px;font-size:14.6px;color:#17254c;font-weight:400;">GET</div>
<div class="abs" style="left:660px;top:44.0px;width:9.5px;height:9.5px;background:#0ccf4a;border-radius:50%"></div>
<div class="t" style="left:674.3px;top:42.14px;font-size:14.6px;color:#17254c;font-weight:400;">200</div>
<div class="t" style="left:810.4px;top:31.43px;font-size:15.2px;color:#17254c;font-weight:400;">/favicon-</div>
<div class="t" style="left:810.4px;top:51.03px;font-size:15.2px;color:#17254c;font-weight:400;">32×32.png</div>
<div class="t" style="left:960.0px;top:42.14px;font-size:14.6px;color:#17254c;font-weight:400;">0.78 kB</div>
<div class="t" style="left:1109.9px;top:42.14px;font-size:14.6px;color:#17254c;font-weight:400;">1.2 kB</div>
<div class="abs" style="left:1252px;top:0px;width:8px;height:96px;background:linear-gradient(90deg,rgba(30,40,80,0),rgba(30,40,80,.045))"></div>
<div class="abs" style="left:1260px;top:0px;width:149px;height:96px;background:#fff"></div>
<div class="abs" style="left:1260px;top:89px;width:149px;height:7px;background:linear-gradient(180deg,rgba(30,40,80,0),rgba(30,40,80,.035))"></div>
<div class="abs" style="left:1279px;top:41.5px;width:16px;height:16px;border-radius:50%;background:radial-gradient(ellipse 50% 30% at 42% 8%,rgba(255,255,255,1) 0%,rgba(255,255,255,.85) 45%,rgba(255,255,255,0) 100%),radial-gradient(ellipse 45% 35% at 82% 38%,rgba(170,245,240,1) 0%,rgba(150,238,238,.7) 50%,rgba(150,238,238,0) 100%),radial-gradient(ellipse 30% 16% at 50% 100%,rgba(236,90,150,.95) 0%,rgba(220,90,155,.6) 50%,rgba(220,90,155,0) 100%),radial-gradient(ellipse 35% 35% at 92% 85%,rgba(105,65,175,1) 0%,rgba(105,65,175,0) 100%),radial-gradient(ellipse 30% 40% at 5% 55%,rgba(120,150,195,.9) 0%,rgba(120,150,195,0) 100%),linear-gradient(180deg,#d8eef5 0%,#6ccbe0 28%,#1e9cc8 48%,#0c7db8 62%,#3a6ab0 80%,#8a5aa8 100%)"></div>
<div class="abs" style="left:20px;top:192px;width:1240px;height:1px;background:#e2e5ee"></div>
<svg class="abs" style="left:31px;top:137.5px" width="10" height="14" viewBox="0 0 10 14"><path d="M2.5 1.5l5 5.5-5 5.5" fill="none" stroke="#8a94a7" stroke-width="1.3"/></svg>
<div class="t" style="left:60.4px;top:138.40px;font-size:14.3px;color:#17254c;font-weight:400;">18 Sep 09:15:01</div>
<svg class="abs" style="left:209px;top:136.0px" width="100" height="16" viewBox="0 0 100 16" shape-rendering="crispEdges"><rect x="0" y="0" width="4" height="4" fill="#f7f7f8"/><rect x="4" y="0" width="4" height="4" fill="#e8e9ed"/><rect x="8" y="0" width="4" height="4" fill="#f3f3f5"/><rect x="12" y="0" width="4" height="4" fill="#e6e7eb"/><rect x="20" y="0" width="4" height="4" fill="#eeeef1"/><rect x="28" y="0" width="4" height="4" fill="#f7f7f8"/><rect x="32" y="0" width="4" height="4" fill="#e0e1e5"/><rect x="40" y="0" width="4" height="4" fill="#e8e9ed"/><rect x="44" y="0" width="4" height="4" fill="#f0f0f2"/><rect x="48" y="0" width="4" height="4" fill="#e2e3e7"/><rect x="56" y="0" width="4" height="4" fill="#e8e9ec"/><rect x="64" y="0" width="4" height="4" fill="#dcdde1"/><rect x="68" y="0" width="4" height="4" fill="#f0f0f2"/><rect x="72" y="0" width="4" height="4" fill="#d5d6dc"/><rect x="76" y="0" width="4" height="4" fill="#ededf0"/><rect x="80" y="0" width="4" height="4" fill="#efeff1"/><rect x="84" y="0" width="4" height="4" fill="#e3e4e8"/><rect x="92" y="0" width="4" height="4" fill="#e8e9ec"/><rect x="0" y="4" width="4" height="4" fill="#f0f0f3"/><rect x="4" y="4" width="4" height="4" fill="#b7bbc8"/><rect x="8" y="4" width="4" height="4" fill="#c0c3cd"/><rect x="12" y="4" width="4" height="4" fill="#d6d8dd"/><rect x="16" y="4" width="4" height="4" fill="#f4f4f6"/><rect x="20" y="4" width="4" height="4" fill="#9498aa"/><rect x="28" y="4" width="4" height="4" fill="#f0f0f2"/><rect x="32" y="4" width="4" height="4" fill="#d5d7dc"/><rect x="36" y="4" width="4" height="4" fill="#dcdde2"/><rect x="40" y="4" width="4" height="4" fill="#b6b9c7"/><rect x="44" y="4" width="4" height="4" fill="#b9bcc8"/><rect x="48" y="4" width="4" height="4" fill="#cacbd2"/><rect x="52" y="4" width="4" height="4" fill="#fafafa"/><rect x="56" y="4" width="4" height="4" fill="#b2b5c2"/><rect x="60" y="4" width="4" height="4" fill="#d8d9de"/><rect x="64" y="4" width="4" height="4" fill="#e8e9ec"/><rect x="68" y="4" width="4" height="4" fill="#d0d1d7"/><rect x="72" y="4" width="4" height="4" fill="#eaebee"/><rect x="76" y="4" width="4" height="4" fill="#e6e7ea"/><rect x="80" y="4" width="4" height="4" fill="#b4b7c4"/><rect x="84" y="4" width="4" height="4" fill="#b4b7c4"/><rect x="88" y="4" width="4" height="4" fill="#f6f6f7"/><rect x="92" y="4" width="4" height="4" fill="#8a8fa3"/><rect x="4" y="8" width="4" height="4" fill="#bcbfcb"/><rect x="8" y="8" width="4" height="4" fill="#bcbfcb"/><rect x="12" y="8" width="4" height="4" fill="#cfd1d7"/><rect x="16" y="8" width="4" height="4" fill="#cfd1d7"/><rect x="20" y="8" width="4" height="4" fill="#a9acbb"/><rect x="24" y="8" width="4" height="4" fill="#eaebee"/><rect x="28" y="8" width="4" height="4" fill="#f4f4f6"/><rect x="32" y="8" width="4" height="4" fill="#bcbfca"/><rect x="40" y="8" width="4" height="4" fill="#bcbfca"/><rect x="44" y="8" width="4" height="4" fill="#d8d9de"/><rect x="48" y="8" width="4" height="4" fill="#a3a7b8"/><rect x="52" y="8" width="4" height="4" fill="#f4f4f6"/><rect x="56" y="8" width="4" height="4" fill="#d6d7dc"/><rect x="60" y="8" width="4" height="4" fill="#d6d7dc"/><rect x="64" y="8" width="4" height="4" fill="#e6e7ea"/><rect x="68" y="8" width="4" height="4" fill="#cfd0d6"/><rect x="72" y="8" width="4" height="4" fill="#c5c8d0"/><rect x="80" y="8" width="4" height="4" fill="#b7bac6"/><rect x="84" y="8" width="4" height="4" fill="#b7bac6"/><rect x="88" y="8" width="4" height="4" fill="#d4d5db"/><rect x="92" y="8" width="4" height="4" fill="#a1a5b6"/><rect x="96" y="8" width="4" height="4" fill="#f0f0f2"/><rect x="4" y="12" width="4" height="4" fill="#f0f0f2"/><rect x="8" y="12" width="4" height="4" fill="#f3f3f5"/><rect x="12" y="12" width="4" height="4" fill="#e6e7ea"/><rect x="20" y="12" width="4" height="4" fill="#f3f3f5"/><rect x="24" y="12" width="4" height="4" fill="#f3f3f5"/><rect x="28" y="12" width="4" height="4" fill="#ededf0"/><rect x="32" y="12" width="4" height="4" fill="#e6e6e9"/><rect x="36" y="12" width="4" height="4" fill="#f6f6f7"/><rect x="40" y="12" width="4" height="4" fill="#f0f0f2"/><rect x="44" y="12" width="4" height="4" fill="#f0f0f2"/><rect x="48" y="12" width="4" height="4" fill="#e8e9ec"/><rect x="52" y="12" width="4" height="4" fill="#f3f3f5"/><rect x="56" y="12" width="4" height="4" fill="#f6f6f7"/><rect x="64" y="12" width="4" height="4" fill="#e6e7ea"/><rect x="72" y="12" width="4" height="4" fill="#f0f0f2"/><rect x="76" y="12" width="4" height="4" fill="#f0f0f2"/><rect x="80" y="12" width="4" height="4" fill="#f0f0f2"/><rect x="84" y="12" width="4" height="4" fill="#e8e9ec"/><rect x="92" y="12" width="4" height="4" fill="#eeeef1"/></svg>
<div class="abs" style="left:360px;top:111px;width:67px;height:31.5px;background:#e2e6f0;border-radius:4px"></div>
<div class="t" style="left:370.2px;top:120.83px;font-size:12.6px;color:#17254c;font-weight:400;">sv10-sjc</div>
<div class="abs" style="left:360px;top:147px;width:100.39999999999998px;height:32px;background:#e2e6f0;border-radius:4px"></div>
<div class="t" style="left:370.8px;top:157.73px;font-size:11.9px;color:#17254c;font-weight:400;">34.206.109.42</div>
<div class="t" style="left:510.0px;top:138.14px;font-size:14.6px;color:#17254c;font-weight:400;">GET</div>
<div class="abs" style="left:660px;top:140.0px;width:9.5px;height:9.5px;background:#0ccf4a;border-radius:50%"></div>
<div class="t" style="left:674.3px;top:138.14px;font-size:14.6px;color:#17254c;font-weight:400;">200</div>
<div class="t" style="left:810.4px;top:127.43px;font-size:15.2px;color:#17254c;font-weight:400;">/swagger-ui-</div>
<div class="t" style="left:810.4px;top:147.03px;font-size:15.2px;color:#17254c;font-weight:400;">bundle.js</div>
<div class="t" style="left:960.0px;top:138.14px;font-size:14.6px;color:#17254c;font-weight:400;">0.72 kB</div>
<div class="t" style="left:1109.9px;top:138.14px;font-size:14.6px;color:#17254c;font-weight:400;">404 kB</div>
<div class="abs" style="left:1252px;top:96px;width:8px;height:96px;background:linear-gradient(90deg,rgba(30,40,80,0),rgba(30,40,80,.045))"></div>
<div class="abs" style="left:1260px;top:96px;width:149px;height:96px;background:#fff"></div>
<div class="abs" style="left:1260px;top:185px;width:149px;height:7px;background:linear-gradient(180deg,rgba(30,40,80,0),rgba(30,40,80,.035))"></div>
<div class="abs" style="left:1279px;top:137.5px;width:16px;height:16px;border-radius:50%;background:radial-gradient(ellipse 50% 30% at 42% 8%,rgba(255,255,255,1) 0%,rgba(255,255,255,.85) 45%,rgba(255,255,255,0) 100%),radial-gradient(ellipse 45% 35% at 82% 38%,rgba(170,245,240,1) 0%,rgba(150,238,238,.7) 50%,rgba(150,238,238,0) 100%),radial-gradient(ellipse 30% 16% at 50% 100%,rgba(236,90,150,.95) 0%,rgba(220,90,155,.6) 50%,rgba(220,90,155,0) 100%),radial-gradient(ellipse 35% 35% at 92% 85%,rgba(105,65,175,1) 0%,rgba(105,65,175,0) 100%),radial-gradient(ellipse 30% 40% at 5% 55%,rgba(120,150,195,.9) 0%,rgba(120,150,195,0) 100%),linear-gradient(180deg,#d8eef5 0%,#6ccbe0 28%,#1e9cc8 48%,#0c7db8 62%,#3a6ab0 80%,#8a5aa8 100%)"></div>
<svg class="abs" style="left:31px;top:233.5px" width="10" height="14" viewBox="0 0 10 14"><path d="M2.5 1.5l5 5.5-5 5.5" fill="none" stroke="#8a94a7" stroke-width="1.3"/></svg>
<div class="t" style="left:60.4px;top:234.40px;font-size:14.3px;color:#17254c;font-weight:400;">18 Sep 09:15:01</div>
<svg class="abs" style="left:209px;top:232.0px" width="100" height="16" viewBox="0 0 100 16" shape-rendering="crispEdges"><rect x="0" y="0" width="4" height="4" fill="#f7f7f8"/><rect x="4" y="0" width="4" height="4" fill="#e8e9ed"/><rect x="8" y="0" width="4" height="4" fill="#f3f3f5"/><rect x="12" y="0" width="4" height="4" fill="#e6e7eb"/><rect x="20" y="0" width="4" height="4" fill="#eeeef1"/><rect x="28" y="0" width="4" height="4" fill="#f7f7f8"/><rect x="32" y="0" width="4" height="4" fill="#e0e1e5"/><rect x="40" y="0" width="4" height="4" fill="#e8e9ed"/><rect x="44" y="0" width="4" height="4" fill="#f0f0f2"/><rect x="48" y="0" width="4" height="4" fill="#e2e3e7"/><rect x="56" y="0" width="4" height="4" fill="#e8e9ec"/><rect x="64" y="0" width="4" height="4" fill="#dcdde1"/><rect x="68" y="0" width="4" height="4" fill="#f0f0f2"/><rect x="72" y="0" width="4" height="4" fill="#d5d6dc"/><rect x="76" y="0" width="4" height="4" fill="#ededf0"/><rect x="80" y="0" width="4" height="4" fill="#efeff1"/><rect x="84" y="0" width="4" height="4" fill="#e3e4e8"/><rect x="92" y="0" width="4" height="4" fill="#e8e9ec"/><rect x="0" y="4" width="4" height="4" fill="#f0f0f3"/><rect x="4" y="4" width="4" height="4" fill="#b7bbc8"/><rect x="8" y="4" width="4" height="4" fill="#c0c3cd"/><rect x="12" y="4" width="4" height="4" fill="#d6d8dd"/><rect x="16" y="4" width="4" height="4" fill="#f4f4f6"/><rect x="20" y="4" width="4" height="4" fill="#9498aa"/><rect x="28" y="4" width="4" height="4" fill="#f0f0f2"/><rect x="32" y="4" width="4" height="4" fill="#d5d7dc"/><rect x="36" y="4" width="4" height="4" fill="#dcdde2"/><rect x="40" y="4" width="4" height="4" fill="#b6b9c7"/><rect x="44" y="4" width="4" height="4" fill="#b9bcc8"/><rect x="48" y="4" width="4" height="4" fill="#cacbd2"/><rect x="52" y="4" width="4" height="4" fill="#fafafa"/><rect x="56" y="4" width="4" height="4" fill="#b2b5c2"/><rect x="60" y="4" width="4" height="4" fill="#d8d9de"/><rect x="64" y="4" width="4" height="4" fill="#e8e9ec"/><rect x="68" y="4" width="4" height="4" fill="#d0d1d7"/><rect x="72" y="4" width="4" height="4" fill="#eaebee"/><rect x="76" y="4" width="4" height="4" fill="#e6e7ea"/><rect x="80" y="4" width="4" height="4" fill="#b4b7c4"/><rect x="84" y="4" width="4" height="4" fill="#b4b7c4"/><rect x="88" y="4" width="4" height="4" fill="#f6f6f7"/><rect x="92" y="4" width="4" height="4" fill="#8a8fa3"/><rect x="4" y="8" width="4" height="4" fill="#bcbfcb"/><rect x="8" y="8" width="4" height="4" fill="#bcbfcb"/><rect x="12" y="8" width="4" height="4" fill="#cfd1d7"/><rect x="16" y="8" width="4" height="4" fill="#cfd1d7"/><rect x="20" y="8" width="4" height="4" fill="#a9acbb"/><rect x="24" y="8" width="4" height="4" fill="#eaebee"/><rect x="28" y="8" width="4" height="4" fill="#f4f4f6"/><rect x="32" y="8" width="4" height="4" fill="#bcbfca"/><rect x="40" y="8" width="4" height="4" fill="#bcbfca"/><rect x="44" y="8" width="4" height="4" fill="#d8d9de"/><rect x="48" y="8" width="4" height="4" fill="#a3a7b8"/><rect x="52" y="8" width="4" height="4" fill="#f4f4f6"/><rect x="56" y="8" width="4" height="4" fill="#d6d7dc"/><rect x="60" y="8" width="4" height="4" fill="#d6d7dc"/><rect x="64" y="8" width="4" height="4" fill="#e6e7ea"/><rect x="68" y="8" width="4" height="4" fill="#cfd0d6"/><rect x="72" y="8" width="4" height="4" fill="#c5c8d0"/><rect x="80" y="8" width="4" height="4" fill="#b7bac6"/><rect x="84" y="8" width="4" height="4" fill="#b7bac6"/><rect x="88" y="8" width="4" height="4" fill="#d4d5db"/><rect x="92" y="8" width="4" height="4" fill="#a1a5b6"/><rect x="96" y="8" width="4" height="4" fill="#f0f0f2"/><rect x="4" y="12" width="4" height="4" fill="#f0f0f2"/><rect x="8" y="12" width="4" height="4" fill="#f3f3f5"/><rect x="12" y="12" width="4" height="4" fill="#e6e7ea"/><rect x="20" y="12" width="4" height="4" fill="#f3f3f5"/><rect x="24" y="12" width="4" height="4" fill="#f3f3f5"/><rect x="28" y="12" width="4" height="4" fill="#ededf0"/><rect x="32" y="12" width="4" height="4" fill="#e6e6e9"/><rect x="36" y="12" width="4" height="4" fill="#f6f6f7"/><rect x="40" y="12" width="4" height="4" fill="#f0f0f2"/><rect x="44" y="12" width="4" height="4" fill="#f0f0f2"/><rect x="48" y="12" width="4" height="4" fill="#e8e9ec"/><rect x="52" y="12" width="4" height="4" fill="#f3f3f5"/><rect x="56" y="12" width="4" height="4" fill="#f6f6f7"/><rect x="64" y="12" width="4" height="4" fill="#e6e7ea"/><rect x="72" y="12" width="4" height="4" fill="#f0f0f2"/><rect x="76" y="12" width="4" height="4" fill="#f0f0f2"/><rect x="80" y="12" width="4" height="4" fill="#f0f0f2"/><rect x="84" y="12" width="4" height="4" fill="#e8e9ec"/><rect x="92" y="12" width="4" height="4" fill="#eeeef1"/></svg>
<div class="abs" style="left:360px;top:207px;width:67px;height:31.5px;background:#e2e6f0;border-radius:4px"></div>
<div class="t" style="left:370.2px;top:216.83px;font-size:12.6px;color:#17254c;font-weight:400;">sv10-sjc</div>
<div class="abs" style="left:360px;top:243px;width:100.39999999999998px;height:32px;background:#e2e6f0;border-radius:4px"></div>
<div class="t" style="left:510.0px;top:234.14px;font-size:14.6px;color:#17254c;font-weight:400;">GET</div>
<div class="abs" style="left:660px;top:236.0px;width:9.5px;height:9.5px;background:#0ccf4a;border-radius:50%"></div>
<div class="t" style="left:674.3px;top:234.14px;font-size:14.6px;color:#17254c;font-weight:400;">200</div>
<div class="t" style="left:810.4px;top:223.43px;font-size:15.2px;color:#17254c;font-weight:400;">/swagger-</div>
<div class="t" style="left:960.0px;top:234.14px;font-size:14.6px;color:#17254c;font-weight:400;">0.73 kB</div>
<div class="t" style="left:1109.9px;top:234.14px;font-size:14.6px;color:#17254c;font-weight:400;">1.1 kB</div>
<div class="abs" style="left:1252px;top:192px;width:8px;height:96px;background:linear-gradient(90deg,rgba(30,40,80,0),rgba(30,40,80,.045))"></div>
<div class="abs" style="left:1260px;top:192px;width:149px;height:96px;background:#fff"></div>
<div class="abs" style="left:1260px;top:281px;width:149px;height:7px;background:linear-gradient(180deg,rgba(30,40,80,0),rgba(30,40,80,.035))"></div>
<div class="abs" style="left:1279px;top:233.5px;width:16px;height:16px;border-radius:50%;background:radial-gradient(ellipse 50% 30% at 42% 8%,rgba(255,255,255,1) 0%,rgba(255,255,255,.85) 45%,rgba(255,255,255,0) 100%),radial-gradient(ellipse 45% 35% at 82% 38%,rgba(170,245,240,1) 0%,rgba(150,238,238,.7) 50%,rgba(150,238,238,0) 100%),radial-gradient(ellipse 30% 16% at 50% 100%,rgba(236,90,150,.95) 0%,rgba(220,90,155,.6) 50%,rgba(220,90,155,0) 100%),radial-gradient(ellipse 35% 35% at 92% 85%,rgba(105,65,175,1) 0%,rgba(105,65,175,0) 100%),radial-gradient(ellipse 30% 40% at 5% 55%,rgba(120,150,195,.9) 0%,rgba(120,150,195,0) 100%),linear-gradient(180deg,#d8eef5 0%,#6ccbe0 28%,#1e9cc8 48%,#0c7db8 62%,#3a6ab0 80%,#8a5aa8 100%)"></div>
</div>
<div class="abs" style="left:262px;top:938px;width:1431px;height:17px;background:#f5f6f9"></div>
<div class="abs" style="left:1694px;top:111px;width:17px;height:844px;background:#f5f6f9"></div>
</body></html>
